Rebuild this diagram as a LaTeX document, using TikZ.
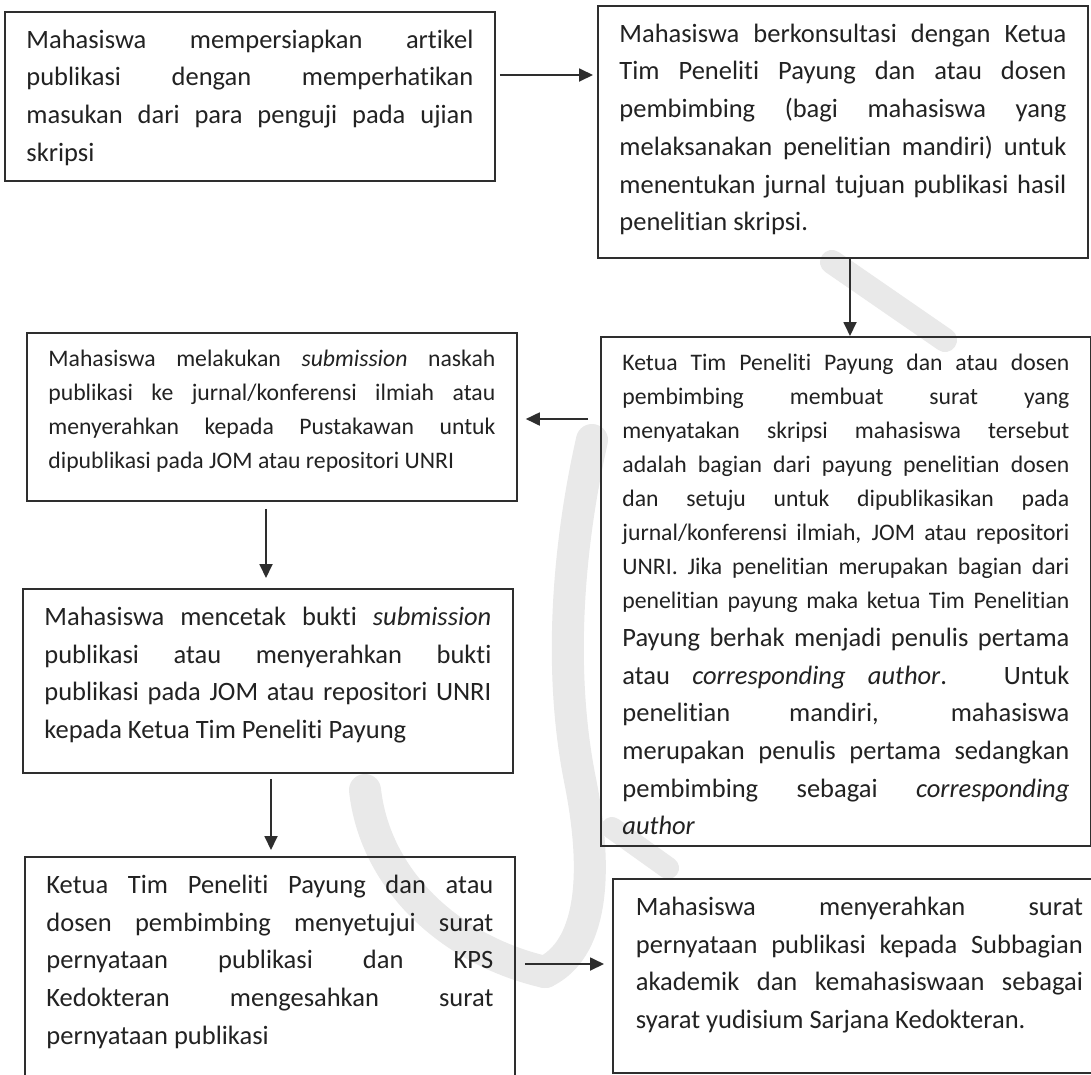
\documentclass[tikz,border=0pt]{standalone}
\usepackage{fontspec}
\setmainfont{Carlito}[Ligatures={NoCommon,NoContextual}]
\usetikzlibrary{arrows.meta,calc}
\definecolor{ink}{HTML}{222222}
\definecolor{edge}{HTML}{2E2E2E}
\definecolor{wmark}{HTML}{E9E9E9}
\newcommand\mfont{\fontsize{26.5pt}{37.7pt}\selectfont}
\newcommand\sfont{\fontsize{23.7pt}{34pt}\selectfont}
\newcommand\jl[1]{\par\noindent\makebox[\linewidth][s]{\strut #1}}
\newcommand\lastl[1]{\par\noindent\strut #1}
\newcommand\boxbody[3]{\parbox[c][#1][t]{447pt}{#2\vspace*{10pt}#3\par}}
\begin{document}
\begin{tikzpicture}[x=1pt,y=-1pt,
  box/.style={draw=edge,line width=1.8pt,inner xsep=21.5pt,inner ysep=0pt,anchor=north west,text=ink},
  arr/.style={draw=edge,line width=1.8pt,-{Triangle[length=14pt,width=13pt]}},
  wm/.style={draw=wmark,line width=32pt,line cap=round}]
\useasboundingbox (0,0) rectangle (1091,1074);
\fill[white] (0,0) rectangle (1091,1074);
\clip (0,0) rectangle (1091,1074);

% faint watermark of the scanned page
\draw[wm,line width=24pt] (832,262) -- (945,340);
\draw[wm] (592,440) .. controls (565,560) and (560,680) .. (580,780)
  .. controls (600,880) and (590,950) .. (545,972);
\draw[wm] (365,790) .. controls (375,880) and (450,950) .. (545,972);
\draw[wm,line width=22pt] (612,828) -- (668,868);

\node[box] (b1) at (4,11) {\boxbody{169pt}{\mfont}{%
\jl{Mahasiswa mempersiapkan artikel}
\jl{publikasi dengan memperhatikan}
\jl{masukan dari para penguji pada ujian}
\lastl{skripsi}}};

\node[box] (b2) at (597,5) {\boxbody{252pt}{\mfont}{%
\jl{Mahasiswa berkonsultasi dengan Ketua}
\jl{Tim Peneliti Payung dan atau dosen}
\jl{pembimbing (bagi mahasiswa yang}
\jl{melaksanakan penelitian mandiri) untuk}
\jl{menentukan jurnal tujuan publikasi hasil}
\lastl{penelitian skripsi.}}};

\node[box] (b3) at (26,332) {\boxbody{168pt}{\sfont}{%
\jl{Mahasiswa melakukan \textit{submission} naskah}
\jl{publikasi ke jurnal/konferensi ilmiah atau}
\jl{menyerahkan kepada Pustakawan untuk}
\lastl{dipublikasi pada JOM atau repositori UNRI}}};

\node[box] (b4) at (600,336) {\boxbody{509pt}{\sfont}{%
\jl{Ketua Tim Peneliti Payung dan atau dosen}
\jl{pembimbing membuat surat yang}
\jl{menyatakan skripsi mahasiswa tersebut}
\jl{adalah bagian dari payung penelitian dosen}
\jl{dan setuju untuk dipublikasikan pada}
\jl{jurnal/konferensi ilmiah, JOM atau repositori}
\jl{UNRI. Jika penelitian merupakan bagian dari}
\jl{penelitian payung maka ketua Tim Penelitian}
\par\mfont
\jl{Payung berhak menjadi penulis pertama}
\jl{atau \textit{corresponding author}. Untuk}
\jl{penelitian mandiri, mahasiswa}
\jl{merupakan penulis pertama sedangkan}
\jl{pembimbing sebagai \textit{corresponding}}
\lastl{\textit{author}}}};

\node[box] (b5) at (22,588) {\boxbody{184pt}{\mfont}{%
\jl{Mahasiswa mencetak bukti \textit{submission}}
\jl{publikasi atau menyerahkan bukti}
\jl{publikasi pada JOM atau repositori UNRI}
\lastl{kepada Ketua Tim Peneliti Payung}}};

\node[box] (b6) at (24,856) {\boxbody{240pt}{\mfont}{%
\jl{Ketua Tim Peneliti Payung dan atau}
\jl{dosen pembimbing menyetujui surat}
\jl{pernyataan publikasi dan KPS}
\jl{Kedokteran mengesahkan surat}
\lastl{pernyataan publikasi}}};

\node[box,inner xsep=23pt] (b7) at (612,878) {\boxbody{194pt}{\mfont}{%
\jl{Mahasiswa menyerahkan surat}
\jl{pernyataan publikasi kepada Subbagian}
\jl{akademik dan kemahasiswaan sebagai}
\lastl{syarat yudisium Sarjana Kedokteran.}}};

\coordinate (a1s) at ($(b1.north east)+(4,64)$);
\coordinate (a1e) at ($(b2.north west)+(-4,70)$);
\draw[arr] (a1s) -- (a1e);

\coordinate (a2s) at ($(b2.south west)+(253,0)$);
\draw[arr] (a2s) -- (a2s |- b4.north);

\coordinate (a3s) at ($(b4.north west)+(-12,83)$);
\coordinate (a3e) at ($(b3.north east)+(8,87)$);
\draw[arr] (a3s) -- (a3e);

\coordinate (a4s) at ($(b3.south west)+(240,7)$);
\coordinate (a4e) at ($(b5.north west)+(244,-10)$);
\draw[arr] (a4s) -- (a4e);

\coordinate (a5s) at ($(b5.south west)+(249,5)$);
\coordinate (a5e) at ($(b6.north west)+(247,-6)$);
\draw[arr] (a5s) -- (a5e);

\coordinate (a6s) at ($(b6.north east)+(9,108)$);
\coordinate (a6e) at ($(b7.north west)+(-8,86)$);
\draw[arr] (a6s) -- (a6e);
\end{tikzpicture}
\end{document}
